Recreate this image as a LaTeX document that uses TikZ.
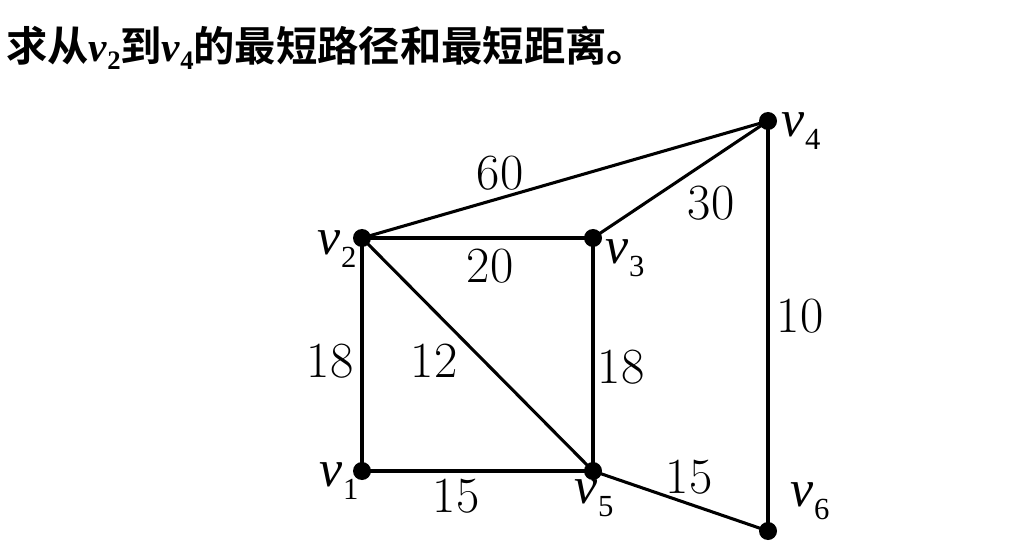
\documentclass[tikz,border=0pt]{standalone}
\usepackage{fontspec}
\newfontfamily\tnr{Liberation Serif}[ItalicFont={Liberation Serif Italic},BoldFont={Liberation Serif Bold},BoldItalicFont={Liberation Serif Bold Italic}]
\newfontfamily\cjk{Noto Sans CJK SC}[BoldFont={* Bold}]
\newcommand\vlab[1]{{\fontsize{39}{39}\selectfont\tnr\itshape v}\kern0.5pt\raisebox{-10pt}{\fontsize{23}{23}\selectfont\tnr #1}}
\newcommand\tv[1]{{\tnr\bfseries\itshape v}\raisebox{-6pt}{\fontsize{20}{20}\selectfont\tnr\bfseries #1}}
\tikzset{
  vtx/.style={circle,fill=black,inner sep=0pt,minimum size=13.5pt},
  edge/.style={line width=2.3pt},
  wt/.style={font=\fontsize{38}{38}\selectfont,inner sep=0pt},
  vl/.style={inner sep=0pt},
}
\begin{document}
\begin{tikzpicture}[x=0.75pt,y=-0.75pt]
\useasboundingbox (0,0) rectangle (1010,552);
\node[anchor=west,inner sep=0pt] (title) at (6,48) {\fontsize{31}{31}\selectfont\cjk\bfseries 求从\tv{2}到\tv{4}的最短路径和最短距离。};
\node[vtx] (v2) at (362,238) {};
\node[vtx] (v3) at (593,238) {};
\node[vtx] (v4) at (768,121) {};
\node[vtx] (v1) at (362,471) {};
\node[vtx] (v5) at (593,471) {};
\node[vtx] (v6) at (768,531) {};
\draw[edge] (v2.center) -- (v4.center);
\draw[edge] (v2.center) -- (v3.center);
\draw[edge] (v3.center) -- (v4.center);
\draw[edge] (v4.center) -- (v6.center);
\draw[edge] (v2.center) -- (v1.center);
\draw[edge] (v2.center) -- (v5.center);
\draw[edge] (v3.center) -- (v5.center);
\draw[edge] (v1.center) -- (v5.center);
\draw[edge] (v5.center) -- (v6.center);
\node[vl] (l2) at (337,249) {\vlab{2}};
\node[vl] (l3) at (625,258) {\vlab{3}};
\node[vl] (l4) at (801,131) {\vlab{4}};
\node[vl] (l1) at (339,481) {\vlab{1}};
\node[vl] (l5) at (594,498) {\vlab{5}};
\node[vl] (l6) at (810,501) {\vlab{6}};
\node[wt] (w60) at (500,173) {60};
\node[wt] (w30) at (711,203) {30};
\node[wt] (w20) at (490,266) {20};
\node[wt] (w10) at (800,316) {10};
\node[wt] (w18a) at (330,361) {18};
\node[wt] (w12) at (434,361) {12};
\node[wt] (w18b) at (621,367) {18};
\node[wt] (w15a) at (456,496) {15};
\node[wt] (w15b) at (689,477) {15};
\end{tikzpicture}
\end{document}
